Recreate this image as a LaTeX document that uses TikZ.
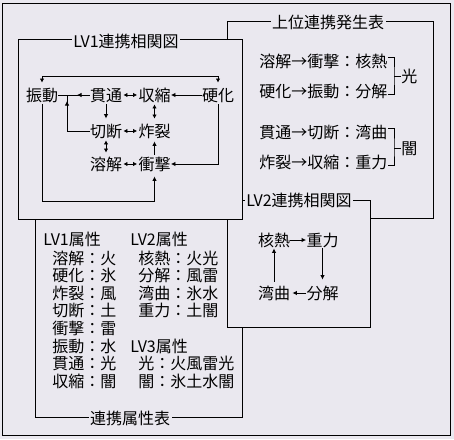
\documentclass[tikz,border=0pt]{standalone}
\usepackage{fontspec}
\setmainfont{Noto Sans CJK JP}
\usetikzlibrary{arrows.meta}
\definecolor{bgc}{RGB}{234,232,239}
\begin{document}
\begin{tikzpicture}[x=1pt,y=-1pt,line width=0.85pt,
  every node/.style={font=\fontsize{16}{18}\selectfont, inner sep=0pt, text height=13pt, text depth=1pt},
  boxst/.style={draw, fill=bgc},
  title/.style={fill=bgc, inner xsep=1.5pt, inner ysep=1pt},
  row/.style={anchor=west},
  arr/.style={-{Latex[length=4.5pt,width=4.5pt]}},
  dbl/.style={{Latex[length=4pt,width=4.5pt]}-{Latex[length=4pt,width=4.5pt]}},
  hs/.style={shorten <=1pt, shorten >=1pt}]
\useasboundingbox (0,0) rectangle (454,439);
\fill[bgc] (0,0) rectangle (454,439);
\draw (2.5,3) rectangle (450.5,435.5);
% boxes (back to front)
\draw[boxst] (227,21.5) rectangle (433,218);
\draw[boxst] (35,205) rectangle (242,417.5);
\draw[boxst] (227,200) rectangle (370,327);
\draw[boxst] (18,39) rectangle (242,219);
% titles
\node[title] (t1) at (126,41) {LV1連携相関図};
\node[title] (t2) at (328,22) {上位連携発生表};
\node[title] (t3) at (299,200) {LV2連携相関図};
\node[title] (t4) at (130,418) {連携属性表};
% LV1 diagram
\node (shindo) at (42,95) {振動};
\node (kantsu) at (106,95) {貫通};
\node (shushuku) at (154.5,95) {収縮};
\node (koka) at (218,95) {硬化};
\node (setsudan) at (106,131) {切断};
\node (sakuretsu) at (154.5,131) {炸裂};
\node (yokai) at (106,164) {溶解};
\node (shogeki) at (154.5,164) {衝撃};
\coordinate (topy) at (0,76);
\coordinate (boty) at (0,201);
\coordinate (j1) at (67,95);
\coordinate (j1a) at (77,95);
\draw[dbl] ([yshift=5pt]shindo.north) -- (shindo.north |- topy) -- (koka.north |- topy) -- ([yshift=5pt]koka.north);
\draw (shindo.east) -- (kantsu.west);
\draw[arr] (kantsu.west) -- (j1a);
\draw (setsudan.west) -| (j1);
\draw[arr] (setsudan.west -| j1) -- ([yshift=-6pt]j1);
\draw[dbl,hs] (kantsu.east) -- (shushuku.west);
\draw[arr] (koka.west) -- (shushuku.east);
\draw[arr,shorten <=2pt,shorten >=5pt] (kantsu.south) -- (setsudan.north);
\draw[dbl,shorten <=2pt,shorten >=5pt] (shushuku.south) -- (sakuretsu.north);
\draw[dbl,hs] (setsudan.east) -- (sakuretsu.west);
\draw[dbl,shorten <=2pt,shorten >=4pt] (setsudan.south) -- (yokai.north);
\draw[arr,shorten <=2pt,shorten >=3pt] (shogeki.north) -- (sakuretsu.south);
\draw[dbl,hs] (yokai.east) -- (shogeki.west);
\draw[arr,shorten <=2pt] (koka.south) |- (shogeki.east);
\draw[arr,shorten <=2pt,shorten >=5pt] (shindo.south) -- (shindo.south |- boty) -| (shogeki.south);
% upper table
\node[row] (r1) at (259,61) {溶解→衝撃：核熱};
\node[row] (r2) at (259,91) {硬化→振動：分解};
\node[row] (r3) at (259,132) {貫通→切断：湾曲};
\node[row] (r4) at (259,162) {炸裂→収縮：重力};
\node[row] (hikari) at (401,76) {光};
\node[row] (yami) at (401,148) {闇};
\coordinate (s1) at (394,76);
\coordinate (s2) at (394,148);
\draw ([yshift=3.5pt]r1.east) -| (s1) |- ([yshift=-3.5pt]r2.east);
\draw (s1) -- (hikari.west);
\draw ([yshift=3.5pt]r3.east) -| (s2) |- ([yshift=-3.5pt]r4.east);
\draw (s2) -- (yami.west);
% LV2 diagram
\node (kakunetsu) at (274,240) {核熱};
\node (juryoku) at (322.5,240) {重力};
\node (wankyoku) at (274,293) {湾曲};
\node (bunkai) at (322.5,293) {分解};
\draw[arr] (kakunetsu.east) -- (juryoku.west);
\draw[arr,shorten <=1pt,shorten >=6pt] (juryoku.south) -- (bunkai.north);
\draw[arr,shorten >=2pt] (bunkai.west) -- (wankyoku.east);
\draw[arr,shorten <=4pt,shorten >=1pt] (wankyoku.north) -- (kakunetsu.south);
% attribute table
\node[row] (a0) at (43,239) {LV1属性};
\node[row] (a1) at (52,258) {溶解：火};
\node[row] (a2) at (52,275.6) {硬化：氷};
\node[row] (a3) at (52,293.2) {炸裂：風};
\node[row] (a4) at (52,310.8) {切断：土};
\node[row] (a5) at (52,328.4) {衝撃：雷};
\node[row] (a6) at (52,346) {振動：水};
\node[row] (a7) at (52,363.6) {貫通：光};
\node[row] (a8) at (52,381.2) {収縮：闇};
\node[row] (b0) at (130,239) {LV2属性};
\node[row] (b1) at (138,258) {核熱：火光};
\node[row] (b2) at (138,275.6) {分解：風雷};
\node[row] (b3) at (138,293.2) {湾曲：氷水};
\node[row] (b4) at (138,310.8) {重力：土闇};
\node[row] (c0) at (130,346) {LV3属性};
\node[row] (c1) at (138,363.6) {光：火風雷光};
\node[row] (c2) at (138,381.2) {闇：氷土水闇};
\end{tikzpicture}
\end{document}
